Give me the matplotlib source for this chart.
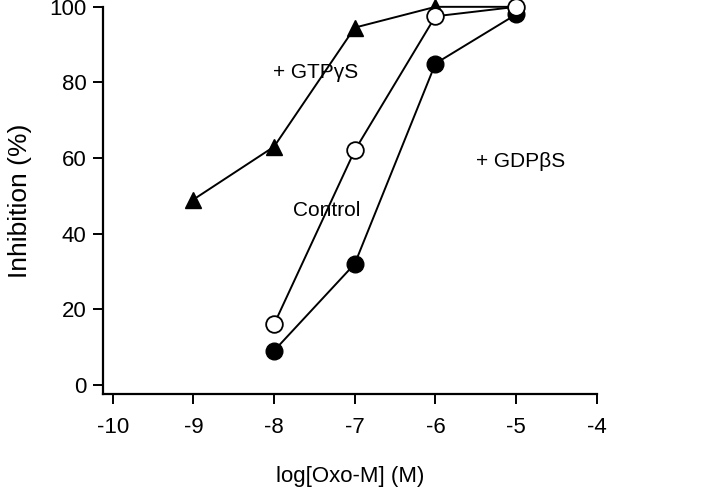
import matplotlib
matplotlib.use("Agg")
import matplotlib.pyplot as plt

plt.rcParams["font.family"] = ["Liberation Sans", "DejaVu Sans"]
plt.rcParams["axes.unicode_minus"] = False

# log[Oxo-M] (M)
log_conc = [-9, -8, -7, -6, -5]
gtp = [49, 63, 94.5, 100, 100]

log_conc_ctrl = [-8, -7, -6, -5]
control = [16, 62, 97.5, 100]
gdp = [9, 32, 85, 98]

x_ticks = [-10, -9, -8, -7, -6, -5, -4]
y_ticks = [0, 20, 40, 60, 80, 100]

fig = plt.figure(figsize=(7.2, 4.88), dpi=100)
ax = fig.add_axes([0.143, 0.193, 0.686, 0.793])

line_kw = dict(color="black", linewidth=1.4, clip_on=False, zorder=3)
ax.plot(log_conc, gtp, marker="^", markersize=11, markerfacecolor="black",
        markeredgecolor="black", **line_kw)
ax.plot(log_conc_ctrl, gdp, marker="o", markersize=12, markerfacecolor="black",
        markeredgecolor="black", **line_kw)
ax.plot(log_conc_ctrl, control, marker="o", markersize=12, markerfacecolor="white",
        markeredgecolor="black", markeredgewidth=1.3, **line_kw)

ax.text(-8.01, 82.5, "+ GTP\u03b3S", fontsize=15, va="center", ha="left")
ax.text(-7.77, 46, "Control", fontsize=15, va="center", ha="left")
ax.text(-5.5, 59, "+ GDP\u03b2S", fontsize=15, va="center", ha="left")

ax.set_xlim(-10.12, -4)
ax.set_ylim(-2.4, 100)
ax.set_xticks(x_ticks)
ax.set_yticks(y_ticks)
ax.tick_params(labelsize=16, direction="out", length=7, width=1.4)
ax.tick_params(axis="x", pad=10)
ax.tick_params(axis="y", pad=5)
ax.spines["top"].set_visible(False)
ax.spines["right"].set_visible(False)
for s in ("left", "bottom"):
    ax.spines[s].set_linewidth(1.6)

ax.set_xlabel("log[Oxo-M] (M)", fontsize=16, labelpad=20)
ax.set_ylabel("Inhibition (%)", fontsize=19, labelpad=12)

fig.savefig("out.png", dpi=100, facecolor="white")
